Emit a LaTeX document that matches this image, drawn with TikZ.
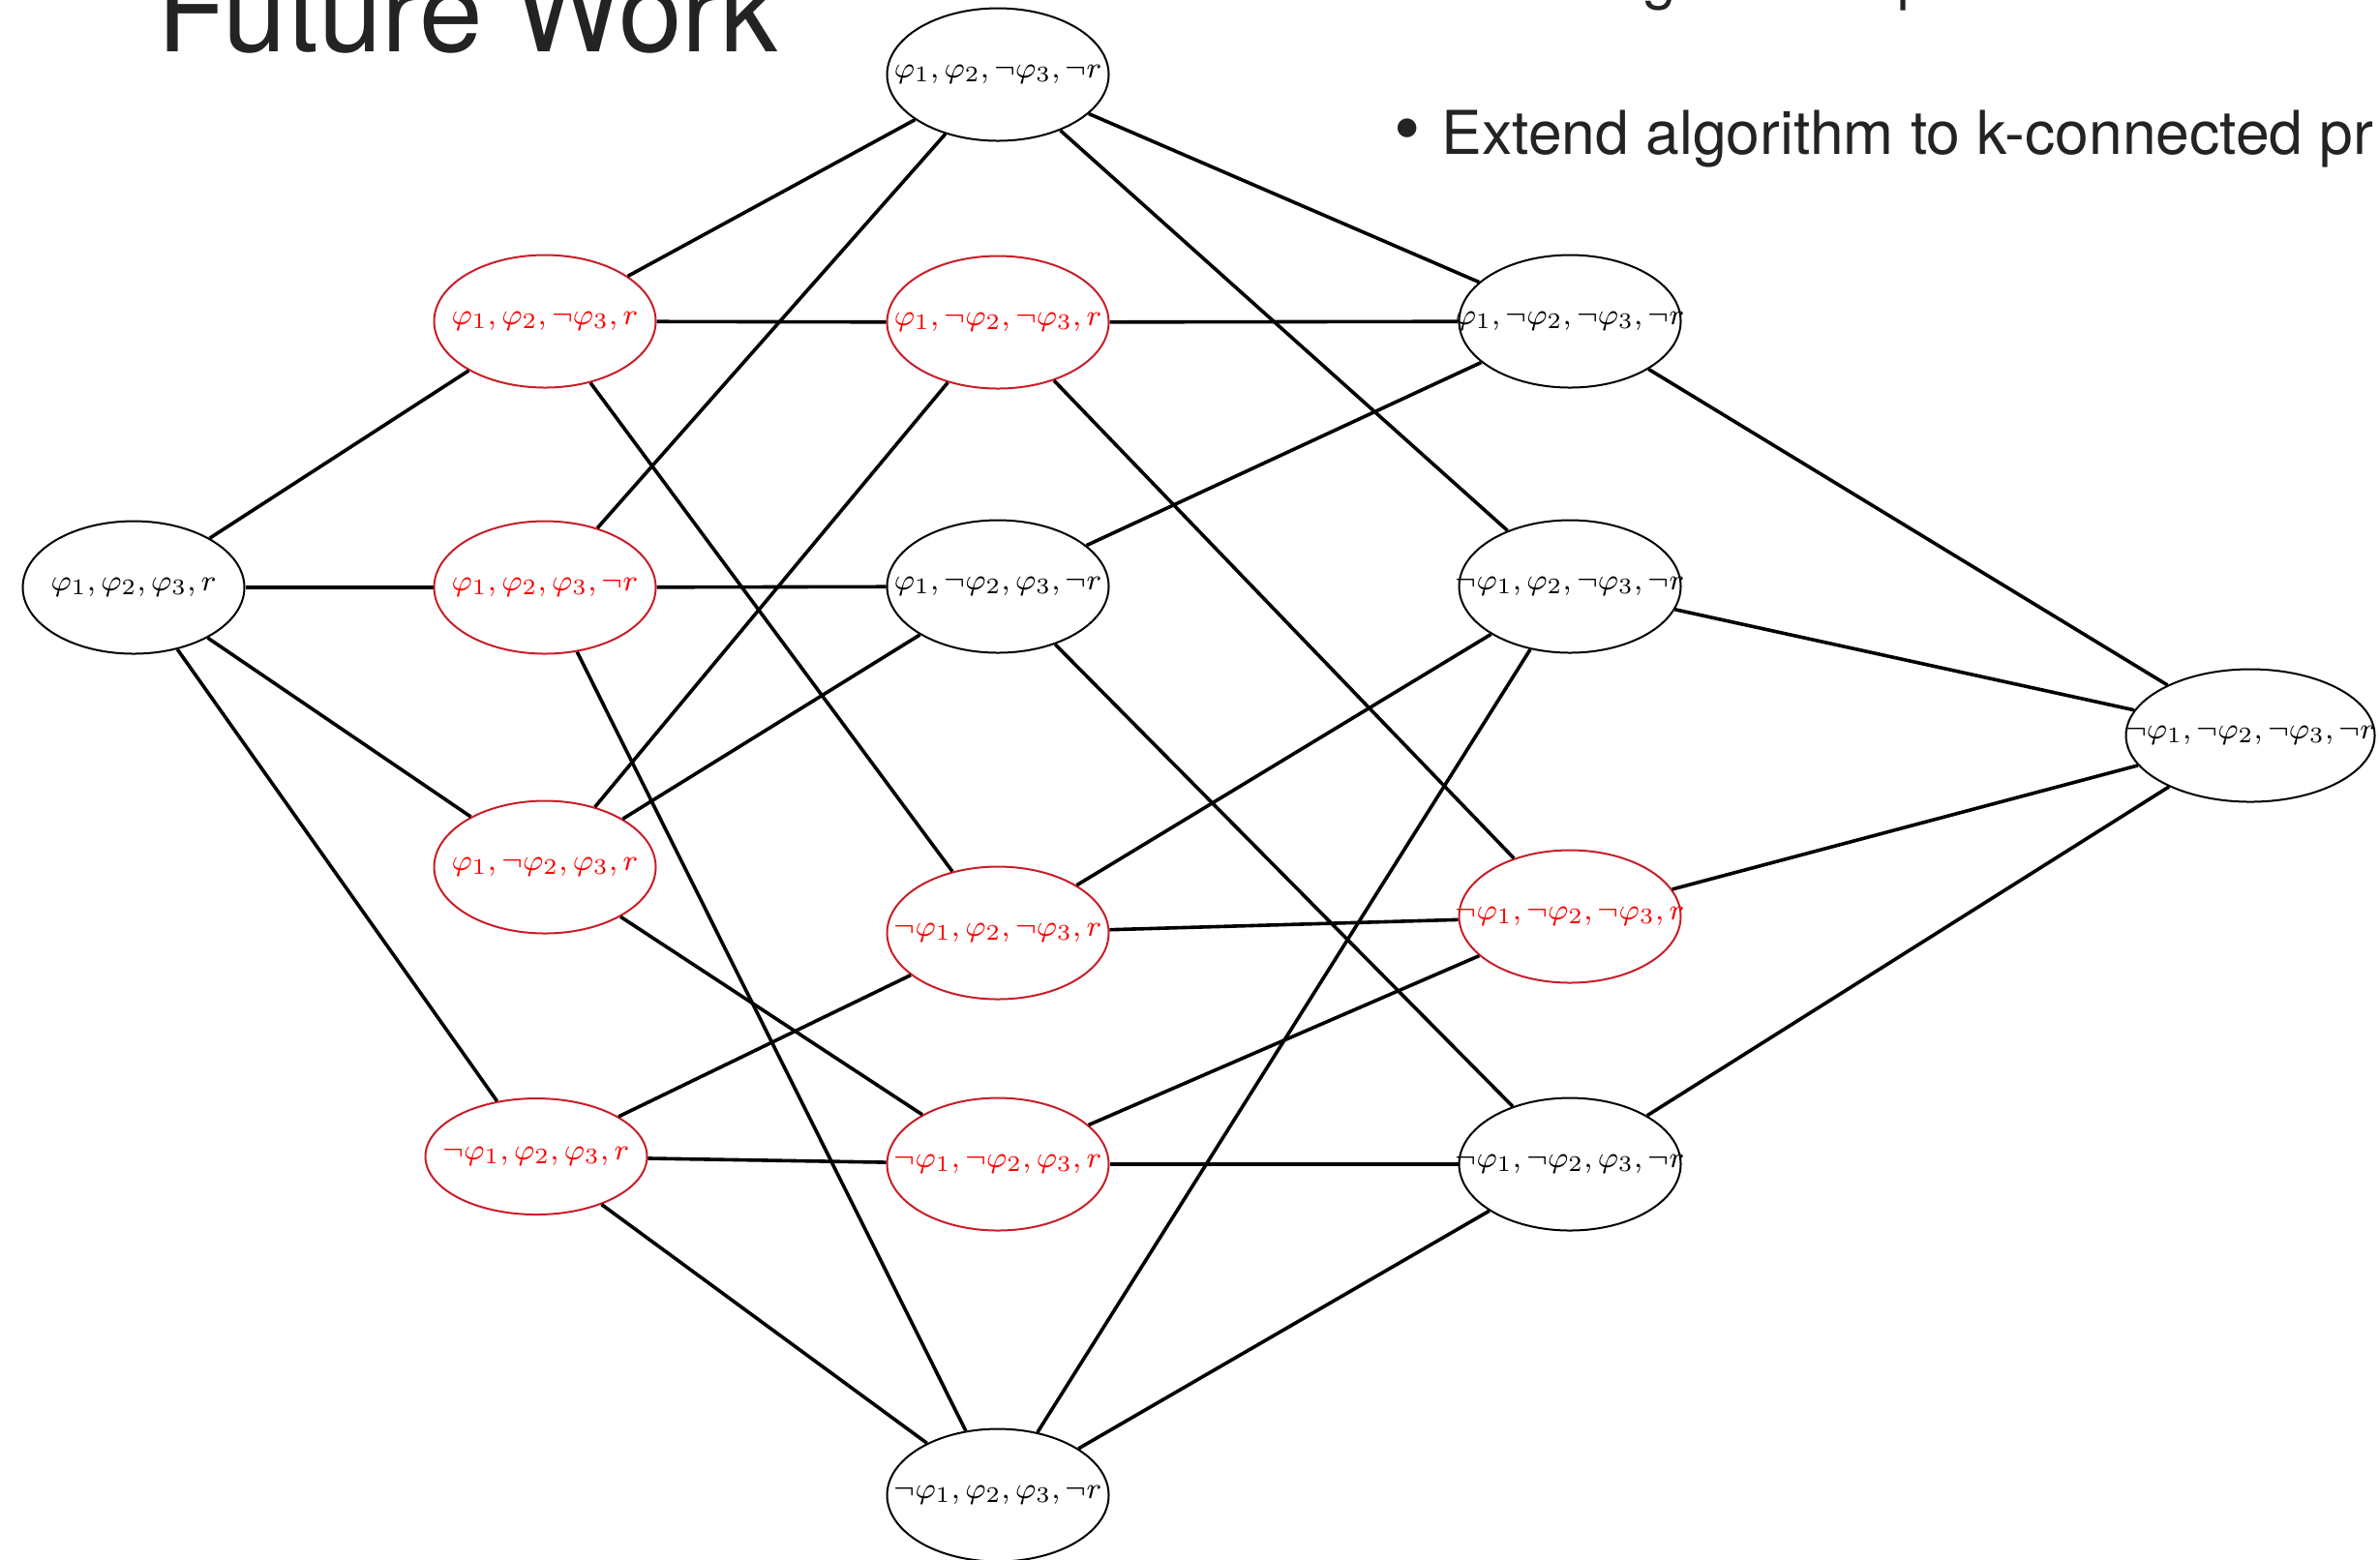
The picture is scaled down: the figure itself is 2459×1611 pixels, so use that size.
\documentclass[tikz,border=0pt]{standalone}
\usepackage{fontspec}
\setsansfont{TeX Gyre Heros}
\usetikzlibrary{shapes.geometric}
\definecolor{ored}{RGB}{200,30,40}
\definecolor{ink}{RGB}{35,35,35}
\newcommand{\nlab}[1]{\makebox[0pt]{\scalebox{0.96}{$#1$}}}
\begin{document}
\begin{tikzpicture}[x=0.25pt,y=-0.25pt,
  st/.style={ellipse, draw=black, line width=0.5pt, minimum width=57.25pt,
    minimum height=34.25pt, inner sep=0pt, text=black,
    font=\fontsize{8}{9.6}\selectfont},
  rd/.style={st, draw=ored, text=red},
  edge/.style={line width=0.9pt, draw=black},
  slide/.style={inner sep=0pt, text=ink, font=\sffamily\fontsize{15.6}{18}\selectfont}]
\useasboundingbox (0,0) rectangle (2459,1611);

% slide text
\node[slide, anchor=base west, font=\sffamily\fontsize{29.5}{32}\selectfont] (title) at (162,53) {Future Work};
\node[slide, anchor=base west] (g1) at (1697,-3) {g};
\node[slide, anchor=base west] (p1) at (1960,-3) {p};
\node[slide, anchor=base west, font=\sffamily\fontsize{19.5}{20}\selectfont] (bul) at (1440,159) {\textbullet};
\node[slide, anchor=base west] (ext) at (1489,159) {Extend algorithm to k-connected pr};

% nodes
\node[st] (A)   at (138,607)  {\nlab{\varphi_1,\varphi_2,\varphi_3,r}};
\node[rd] (C2a) at (563,332)  {\nlab{\varphi_1,\varphi_2,\neg\varphi_3,r}};
\node[rd] (C2b) at (563,607)  {\nlab{\varphi_1,\varphi_2,\varphi_3,\neg r}};
\node[rd] (C2c) at (563,896)  {\nlab{\varphi_1,\neg\varphi_2,\varphi_3,r}};
\node[rd, minimum height=30pt] (C2d) at (554,1195) {\nlab{\neg\varphi_1,\varphi_2,\varphi_3,r}};
\node[st] (T)   at (1031,77)  {\nlab{\varphi_1,\varphi_2,\neg\varphi_3,\neg r}};
\node[rd] (C3b) at (1031,333) {\nlab{\varphi_1,\neg\varphi_2,\neg\varphi_3,r}};
\node[st] (C3c) at (1031,606) {\nlab{\varphi_1,\neg\varphi_2,\varphi_3,\neg r}};
\node[rd] (C3d) at (1031,964) {\nlab{\neg\varphi_1,\varphi_2,\neg\varphi_3,r}};
\node[rd] (C3e) at (1031,1203) {\nlab{\neg\varphi_1,\neg\varphi_2,\varphi_3,r}};
\node[st] (B)   at (1031,1545) {\nlab{\neg\varphi_1,\varphi_2,\varphi_3,\neg r}};
\node[st] (C4a) at (1622,332) {\nlab{\varphi_1,\neg\varphi_2,\neg\varphi_3,\neg r}};
\node[st] (C4b) at (1622,606) {\nlab{\neg\varphi_1,\varphi_2,\neg\varphi_3,\neg r}};
\node[rd] (C4c) at (1622,947) {\nlab{\neg\varphi_1,\neg\varphi_2,\neg\varphi_3,r}};
\node[st] (C4d) at (1622,1203) {\nlab{\neg\varphi_1,\neg\varphi_2,\varphi_3,\neg r}};
\node[st, minimum width=64.25pt] (E) at (2325,760) {\nlab{\neg\varphi_1,\neg\varphi_2,\neg\varphi_3,\neg r}};

% edges
\foreach \u/\v in {A/C2a, A/C2b, A/C2c, A/C2d,
  T/C2a, T/C2b, T/C4a, T/C4b,
  C2a/C3b, C2a/C3d, C2b/C3c, C2b/B,
  C2c/C3b, C2c/C3c, C2c/C3e,
  C2d/C3d, C2d/C3e, C2d/B,
  C3b/C4a, C3b/C4c, C3c/C4a, C3c/C4d,
  C3d/C4b, C3d/C4c, C3e/C4c, C3e/C4d,
  B/C4b, B/C4d,
  C4a/E, C4b/E, C4c/E, C4d/E}
  \draw[edge] (\u) -- (\v);
\end{tikzpicture}
\end{document}
